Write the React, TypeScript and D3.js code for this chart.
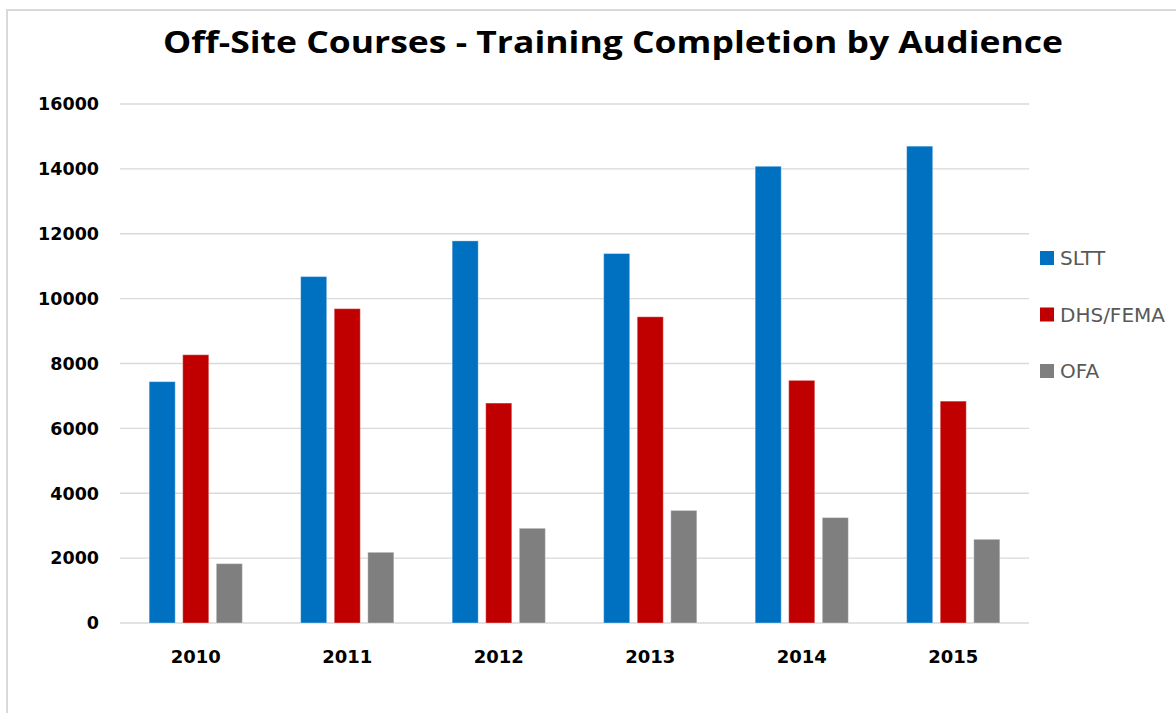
import React from "react";
import * as d3 from "d3";

const years = ["2010", "2011", "2012", "2013", "2014", "2015"];
const seriesNames = ["SLTT", "DHS/FEMA", "OFA"];
const slttValues = [7440, 10680, 11780, 11390, 14080, 14700];
const dhsFemaValues = [8270, 9690, 6780, 9440, 7480, 6840];
const ofaValues = [1830, 2180, 2920, 3470, 3250, 2580];
const yTicks = [0, 2000, 4000, 6000, 8000, 10000, 12000, 14000, 16000];
const colors = ["#0070C0", "#C00000", "#7F7F7F"];
const title = "Off-Site Courses - Training Completion by Audience";

const W = 1176;
const H = 713;
const plot = { left: 120, right: 1029, top: 104, bottom: 623 };

export default function App() {
  const seriesValues = [slttValues, dhsFemaValues, ofaValues];
  const x0 = d3
    .scaleBand<string>()
    .domain(years)
    .range([plot.left, plot.right])
    .paddingInner(0.385)
    .paddingOuter(0.1925);
  const x1 = d3
    .scaleBand<string>()
    .domain(seriesNames)
    .range([0, x0.bandwidth()])
    .paddingInner(0.224)
    .paddingOuter(0);
  const y = d3.scaleLinear().domain([0, 16000]).range([plot.bottom, plot.top]);

  return (
    <div style={{ position: "fixed", left: 0, top: 0, width: W, height: H, background: "#fff" }}>
      <svg width={W} height={H} style={{ display: "block" }}>
        <rect x={0} y={0} width={W} height={H} fill="#fff" />
        <rect x={7} y={10} width={1300} height={900} fill="none" stroke="#d9d9d9" strokeWidth={2} />
        <text
          x={613}
          y={53}
          textAnchor="middle"
          fontFamily="Open Sans"
          fontWeight="bold"
          fontSize={31}
          fill="#000"
          textLength={900}
          lengthAdjust="spacingAndGlyphs"
        >
          {title}
        </text>
        {yTicks.map((t) => (
          <g key={t}>
            <line
              x1={plot.left}
              x2={plot.right}
              y1={y(t)}
              y2={y(t)}
              stroke="#d9d9d9"
              strokeWidth={1.3}
            />
            <text
              x={99}
              y={y(t)}
              dy="0.36em"
              textAnchor="end"
              fontFamily="DejaVu Sans"
              fontWeight="bold"
              fontSize={17.5}
              fill="#000"
            >
              {t}
            </text>
          </g>
        ))}
        {years.map((yr, i) => (
          <g key={yr} transform={`translate(${x0(yr)},0)`}>
            {seriesNames.map((s, j) => {
              const v = seriesValues[j][i];
              return (
                <rect
                  key={s}
                  x={x1(s)}
                  y={y(v)}
                  width={x1.bandwidth()}
                  height={y(0) - y(v)}
                  fill={colors[j]}
                  stroke="#ffffff"
                  strokeOpacity={0.35}
                  strokeWidth={1}
                />
              );
            })}
            <text
              x={x0.bandwidth() / 2}
              y={663}
              textAnchor="middle"
              fontFamily="DejaVu Sans"
              fontWeight="bold"
              fontSize={18}
              fill="#000"
            >
              {yr}
            </text>
          </g>
        ))}
        {seriesNames.map((s, j) => (
          <g key={s} transform={`translate(1040,${258 + j * 56.5})`}>
            <rect x={0} y={-7} width={14} height={14} fill={colors[j]} />
            <text x={20} y={0} dy="0.36em" fontFamily="DejaVu Sans" fontSize={20} fill="#595959">
              {s}
            </text>
          </g>
        ))}
      </svg>
    </div>
  );
}
